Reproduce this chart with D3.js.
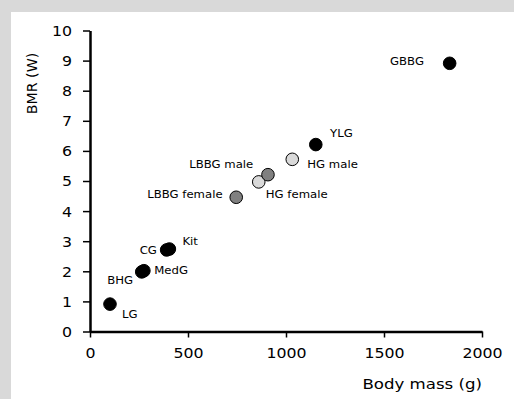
<!DOCTYPE html>
<html>
<head>
<meta charset="utf-8">
<script src="https://cdn.jsdelivr.net/npm/d3@7"></script>
<style>
  html, body { margin: 0; padding: 0; background: #d9d9d9; }
  svg { display: block; }
  text { font-family: "DejaVu Sans", Verdana, sans-serif; fill: #000; }
</style>
</head>
<body>
<svg id="chart" width="514" height="399"></svg>
<script>
// ---- data ----
const species = ["LG", "BHG", "MedG", "CG", "Kit", "LBBG female", "HG female", "LBBG male", "HG male", "YLG", "GBBG"];
const bodyMass = [102, 264, 275, 391, 405, 746, 861, 908, 1032, 1152, 1835];
const bmr = [0.91, 1.98, 2.02, 2.71, 2.74, 4.46, 4.97, 5.21, 5.72, 6.21, 8.91];
const group = ["other", "other", "other", "other", "other", "LBBG", "HG", "LBBG", "HG", "other", "other"];
const xTicks = [0, 500, 1000, 1500, 2000];
const yTicks = [0, 1, 2, 3, 4, 5, 6, 7, 8, 9, 10];
const xTitle = "Body mass (g)";
const yTitle = "BMR (W)";

// ---- layout (label placement relative to each point, in px) ----
const labelLayout = {
  "LG": [12, 13.7, "start"],
  "BHG": [-8.7, 12.3, "end"],
  "MedG": [10.3, 3.6, "start"],
  "CG": [-9.7, 4, "end"],
  "Kit": [13, -4, "start"],
  "LBBG female": [-13.6, 0.4, "end"],
  "HG female": [7, 15.7, "start"],
  "LBBG male": [-14.7, -7, "end"],
  "HG male": [15, 8.4, "start"],
  "YLG": [14.3, -7.7, "start"],
  "GBBG": [-25.7, 1.7, "end"]
};
const fillFor = { other: "#000000", LBBG: "#808080", HG: "#d9d9d9" };
const SX = 1.17; // horizontal text stretch seen in the reference

const svg = d3.select("#chart");
svg.append("rect").attr("x", 11).attr("y", 12).attr("width", 514).attr("height", 399).attr("fill", "#ffffff");

const x = d3.scaleLinear().domain([0, 2000]).range([90, 482]);
const y = d3.scaleLinear().domain([0, 10]).range([331.5, 30.5]);

// y axis
const gy = svg.append("g").attr("transform", `translate(${x(0)},0)`)
  .call(d3.axisLeft(y).tickValues(yTicks).tickFormat(d3.format("d")).tickSize(7).tickSizeOuter(0));
gy.select(".domain").attr("stroke", "#000").attr("stroke-width", 2.5);
gy.selectAll(".tick line").attr("stroke", "#000").attr("stroke-width", 1.5);
gy.selectAll(".tick text")
  .attr("x", 0).attr("dy", null).attr("dominant-baseline", null)
  .attr("transform", `translate(-18,4.9) scale(${SX},1)`)
  .style("font-size", "13.5px").style("font-family", "DejaVu Sans");

// x axis
const gx = svg.append("g").attr("transform", `translate(0,${y(0)})`)
  .call(d3.axisBottom(x).tickValues(xTicks).tickFormat(d3.format("d")).tickSize(6).tickSizeOuter(0));
gx.select(".domain").attr("stroke", "#000").attr("stroke-width", 2.5);
gx.selectAll(".tick line").attr("stroke", "#000").attr("stroke-width", 1.5);
gx.selectAll(".tick text")
  .attr("y", 0).attr("dy", null)
  .attr("transform", `translate(0,26) scale(${SX},1)`)
  .style("font-size", "13.5px").style("font-family", "DejaVu Sans");

// axis titles
svg.append("text")
  .attr("transform", `translate(482,389) scale(${SX},1)`)
  .attr("text-anchor", "end")
  .style("font-size", "14.2px")
  .text(xTitle);
svg.append("text")
  .attr("transform", `translate(36.5,83.5) rotate(-90)`)
  .attr("text-anchor", "middle")
  .style("font-size", "14.2px")
  .text(yTitle);

// points
const pts = species.map((s, i) => ({ s, m: bodyMass[i], v: bmr[i], g: group[i] }));
svg.append("g").selectAll("circle").data(pts).join("circle")
  .attr("cx", d => x(d.m)).attr("cy", d => y(d.v)).attr("r", 6.3)
  .attr("fill", d => fillFor[d.g])
  .attr("stroke", "#000").attr("stroke-width", 1);

// labels
svg.append("g").selectAll("text").data(pts).join("text")
  .attr("text-anchor", d => labelLayout[d.s][2])
  .attr("transform", d => `translate(${x(d.m) + labelLayout[d.s][0]},${y(d.v) + labelLayout[d.s][1]}) scale(${SX},1)`)
  .style("font-size", "10px")
  .text(d => d.s);
</script>
</body>
</html>
